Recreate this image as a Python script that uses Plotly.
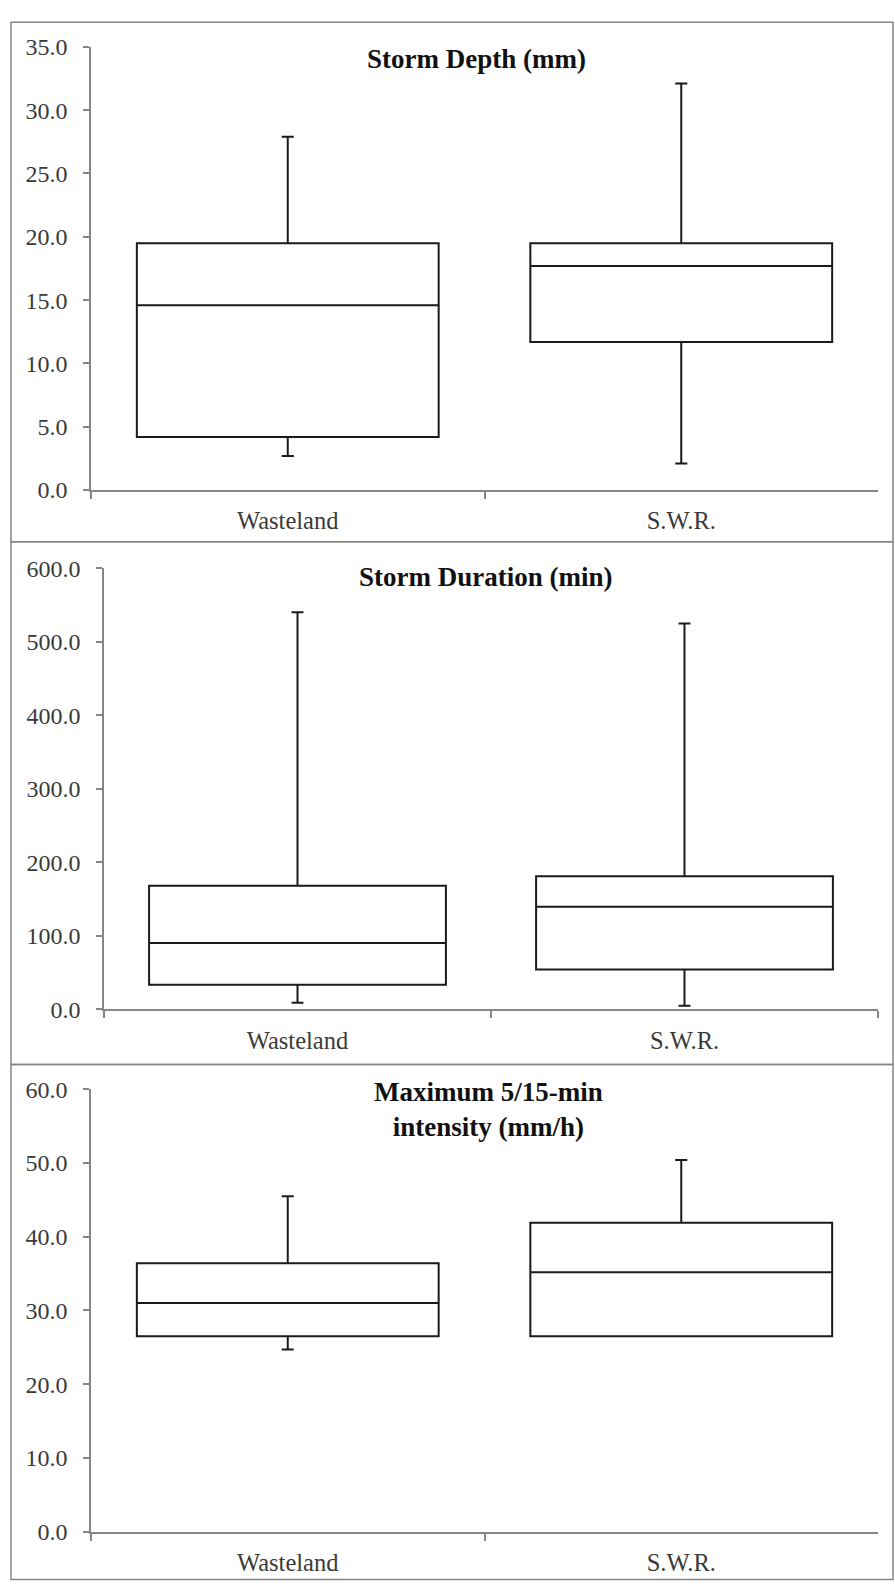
import plotly.graph_objects as go

W, H = 895, 1594

categories = ["Wasteland", "S.W.R."]

# Storm depth (mm)
depth_low = [2.7, 2.1]
depth_q1 = [4.2, 11.7]
depth_med = [14.6, 17.7]
depth_q3 = [19.5, 19.5]
depth_high = [27.9, 32.1]

# Storm duration (min)
duration_low = [9.2, 5.1]
duration_q1 = [33.6, 54.3]
duration_med = [90.3, 139.5]
duration_q3 = [168.1, 181.0]
duration_high = [540.1, 524.9]

# Maximum 5/15-min intensity (mm/h)
intensity_low = [24.7, 26.5]
intensity_q1 = [26.5, 26.5]
intensity_med = [31.0, 35.2]
intensity_q3 = [36.4, 41.9]
intensity_high = [45.5, 50.4]

titles = ["Storm Depth (mm)", "Storm Duration (min)", "Maximum 5/15-min<br>intensity (mm/h)"]
y_max = [35, 600, 60]
y_step = [5, 100, 10]

stats = [
    (depth_low, depth_q1, depth_med, depth_q3, depth_high),
    (duration_low, duration_q1, duration_med, duration_q3, duration_high),
    (intensity_low, intensity_q1, intensity_med, intensity_q3, intensity_high),
]

# panel geometry in pixels: plot-area left/right/top/bottom, frame top/bottom, title centre
panels = [
    dict(l=91, r=878, t=34.4, b=485, ft=9.5, fb=537.5, tx=476, ty=46.5),
    dict(l=104, r=878, t=564.4, b=1013, ft=537.5, fb=1069, tx=485, ty=573),
    dict(l=91, r=878, t=1094, b=1544, ft=1069, fb=1592.5, tx=488, ty=1114.5),
]

SERIF = "Liberation Serif"
AXIS_GREY = "#868686"
LABEL_GREY = "#3a3a3a"
BOX_LINE = "#1a1a1a"


def px_x(x):
    return x / W


def px_y(y):
    return 1 - y / H


fig = go.Figure()
shapes = []
annotations = []

for i, (p, s) in enumerate(zip(panels, stats)):
    low, q1, med, q3, high = s
    n = "" if i == 0 else str(i + 1)
    fig.add_trace(go.Box(
        x=categories,
        lowerfence=low, q1=q1, median=med, q3=q3, upperfence=high,
        width=0.767,
        whiskerwidth=0.04,
        fillcolor="white",
        line=dict(color=BOX_LINE, width=2),
        boxpoints=False,
        showlegend=False,
        hoverinfo="skip",
        xaxis="x" + n, yaxis="y" + n,
    ))
    fig.layout["xaxis" + n] = dict(
        domain=[px_x(p["l"]), px_x(p["r"])],
        anchor="y" + n,
        type="category",
        range=[-0.5, 1.5],
        tickson="boundaries",
        ticks="outside", ticklen=7, tickwidth=1.5, tickcolor=AXIS_GREY,
        showline=True, linecolor=AXIS_GREY, linewidth=1.5,
        showgrid=False, zeroline=False,
        tickfont=dict(family=SERIF, size=24.5, color=LABEL_GREY),
        ticklabelstandoff=8,
    )
    fig.layout["yaxis" + n] = dict(
        domain=[px_y(p["b"]), px_y(p["t"])],
        anchor="x" + n,
        range=[0, y_max[i]],
        dtick=y_step[i], tick0=0,
        tickformat=".1f",
        ticks="outside", ticklen=6, tickwidth=1.5, tickcolor=AXIS_GREY,
        showline=True, linecolor=AXIS_GREY, linewidth=1.5,
        showgrid=False, zeroline=False,
        tickfont=dict(family=SERIF, size=24, color=LABEL_GREY),
        ticklabelstandoff=11,
    )
    shapes.append(dict(
        type="rect", xref="paper", yref="paper",
        x0=px_x(11), x1=px_x(893), y0=px_y(p["fb"]), y1=px_y(p["ft"]),
        line=dict(color=AXIS_GREY, width=1.5), fillcolor="rgba(0,0,0,0)",
        layer="below",
    ))
    annotations.append(dict(
        text="<b>" + titles[i] + "</b>",
        xref="paper", yref="paper",
        x=px_x(p["tx"]), y=px_y(p["ty"]),
        xanchor="center", yanchor="middle",
        showarrow=False,
        font=dict(family=SERIF, size=27, color="#111111"),
    ))

fig.update_layout(
    width=W, height=H,
    margin=dict(l=0, r=0, t=0, b=0),
    paper_bgcolor="white", plot_bgcolor="white",
    shapes=shapes, annotations=annotations,
)

fig.write_html("out.html")
